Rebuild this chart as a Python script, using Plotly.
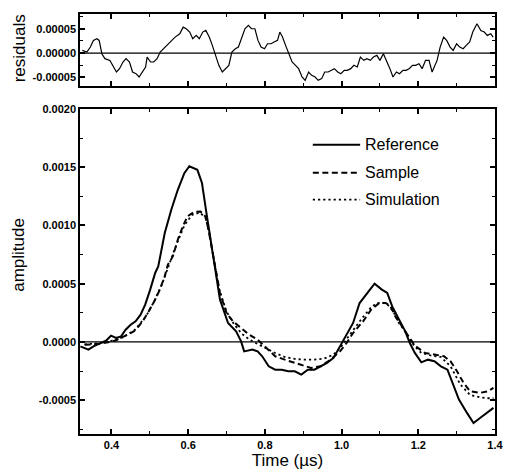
import numpy as np
import plotly.graph_objects as go
from plotly.subplots import make_subplots

# ---- residuals (fit minus measured), units of 1e-5 ----
res_time = [0.324, 0.336, 0.345, 0.353, 0.362, 0.368, 0.375, 0.383, 0.396, 0.404,
            0.413, 0.421, 0.430, 0.438, 0.447, 0.455, 0.464, 0.472, 0.481, 0.489,
            0.493, 0.502, 0.510, 0.519, 0.527, 0.540, 0.553, 0.566, 0.578, 0.587,
            0.595, 0.604, 0.612, 0.621, 0.629, 0.638, 0.646, 0.655, 0.663, 0.672,
            0.680, 0.689, 0.697, 0.706, 0.714, 0.723, 0.731, 0.740, 0.748, 0.757,
            0.765, 0.774, 0.782, 0.790, 0.799, 0.807, 0.816, 0.824, 0.833, 0.839,
            0.846, 0.854, 0.863, 0.871, 0.880, 0.888, 0.897, 0.905, 0.914, 0.922,
            0.931, 0.939, 0.948, 0.956, 0.965, 0.973, 0.981, 0.990, 0.998, 1.007,
            1.015, 1.024, 1.032, 1.041, 1.049, 1.058, 1.066, 1.075, 1.083, 1.092,
            1.100, 1.109, 1.117, 1.126, 1.134, 1.143, 1.151, 1.160, 1.168, 1.176,
            1.185, 1.193, 1.202, 1.210, 1.219, 1.228, 1.236, 1.249, 1.257, 1.266,
            1.274, 1.283, 1.291, 1.300, 1.308, 1.317, 1.325, 1.334, 1.342, 1.353,
            1.363, 1.372, 1.380, 1.389, 1.395]
res_e5 = [0.55, 0.21, 1.24, 2.62, 2.97, 2.62, -0.14, -1.17, -1.52, -2.55,
          -3.93, -3.24, -1.86, -1.17, -1.86, -3.93, -4.28, -4.97, -3.93, -2.90,
          -0.83, -1.86, -1.86, -1.17, 0.21, 1.24, 2.28, 3.31, 4.00, 5.38,
          5.04, 4.35, 2.97, 3.66, 2.97, 4.35, 4.69, 3.31, 1.59, -0.48,
          -2.55, -3.93, -3.24, -2.55, 0.21, 0.90, 1.24, 3.31, 5.04, 5.73,
          5.04, 5.04, 2.62, 1.24, 0.90, 1.93, 1.93, 2.28, 2.62, 4.35,
          3.31, 1.59, -0.14, -1.86, -2.55, -3.24, -4.97, -5.66, -3.93, -4.62,
          -4.97, -5.66, -5.31, -3.93, -3.93, -3.59, -3.24, -3.93, -4.28, -3.59,
          -3.59, -3.24, -2.55, -2.90, -0.83, -1.52, -1.17, -1.52, -0.83, -0.48,
          -1.52, -0.14, -1.52, -3.24, -4.97, -3.93, -4.28, -3.59, -3.59, -3.24,
          -2.55, -2.55, -2.21, -3.24, -1.52, -1.52, -3.93, -1.52, 1.24, 3.31,
          2.62, 1.24, 0.55, 1.93, 1.24, 0.90, 1.59, 2.28, 4.35, 6.07,
          4.69, 4.35, 3.66, 4.00, 3.31]

# ---- waveforms, units of 1e-4 ----
ref_time = [0.319, 0.340, 0.353, 0.370, 0.387, 0.399, 0.412, 0.425, 0.437, 0.450,
            0.463, 0.476, 0.488, 0.501, 0.514, 0.522, 0.539, 0.556, 0.573, 0.590,
            0.603, 0.624, 0.636, 0.649, 0.666, 0.683, 0.704, 0.725, 0.738, 0.746,
            0.768, 0.781, 0.793, 0.810, 0.827, 0.844, 0.861, 0.878, 0.895, 0.912,
            0.929, 0.946, 0.962, 0.979, 0.996, 1.013, 1.030, 1.047, 1.064, 1.077,
            1.086, 1.105, 1.119, 1.132, 1.149, 1.166, 1.178, 1.191, 1.208, 1.225,
            1.242, 1.259, 1.276, 1.289, 1.306, 1.327, 1.344, 1.361, 1.373, 1.386,
            1.396]
ref_e4 = [-0.38, -0.66, -0.38, -0.09, 0.14, 0.54, 0.34, 0.48, 1.05, 1.48,
          1.77, 2.34, 3.20, 4.49, 5.92, 6.48, 9.35, 11.35, 13.06, 14.49,
          15.08, 14.77, 13.64, 10.77, 7.06, 3.63, 1.63, 0.91, 0.05, -0.81,
          -0.66, -0.81, -1.23, -2.09, -2.38, -2.38, -2.52, -2.52, -2.80, -2.38,
          -2.38, -2.09, -1.80, -1.37, -0.38, 0.63, 1.63, 3.34, 4.06, 4.63,
          5.00, 4.49, 4.20, 3.05, 1.91, 0.91, -0.09, -0.94, -1.75, -1.52,
          -1.66, -2.09, -2.38, -3.52, -4.95, -6.09, -6.95, -6.52, -6.23, -5.95,
          -5.66]

sample_time = [0.330, 0.350, 0.370, 0.391, 0.412, 0.425, 0.441, 0.458, 0.471, 0.484,
               0.497, 0.514, 0.526, 0.539, 0.547, 0.560, 0.573, 0.586, 0.598, 0.615,
               0.632, 0.645, 0.653, 0.666, 0.683, 0.700, 0.717, 0.738, 0.759, 0.781,
               0.802, 0.827, 0.852, 0.878, 0.903, 0.920, 0.946, 0.971, 0.996, 1.013,
               1.030, 1.056, 1.077, 1.098, 1.115, 1.128, 1.140, 1.157, 1.174, 1.191,
               1.217, 1.242, 1.267, 1.284, 1.301, 1.318, 1.335, 1.361, 1.382, 1.396]
sample_e4 = [-0.25, -0.20, -0.15, -0.03, 0.14, 0.34, 0.63, 0.91, 1.34, 1.91,
             2.62, 3.63, 4.49, 5.63, 6.63, 7.34, 8.77, 9.91, 10.77, 11.15,
             11.20, 10.77, 9.63, 7.23, 4.20, 2.49, 1.77, 1.20, 0.63, 0.20,
             -0.49, -1.23, -1.52, -1.80, -2.09, -2.23, -2.09, -1.52, -0.81, -0.09,
             0.77, 1.77, 2.77, 3.34, 3.34, 3.05, 2.20, 1.34, 0.48, -0.32,
             -0.94, -1.09, -1.23, -1.66, -2.52, -3.52, -4.23, -4.37, -4.23, -3.94]

sim_time = [0.330, 0.370, 0.400, 0.430, 0.460, 0.490, 0.510, 0.530, 0.550, 0.570,
            0.590, 0.610, 0.630, 0.645, 0.655, 0.665, 0.680, 0.700, 0.720, 0.740,
            0.760, 0.776, 0.800, 0.827, 0.852, 0.878, 0.903, 0.929, 0.954, 0.979,
            0.996, 1.013, 1.030, 1.055, 1.075, 1.090, 1.105, 1.120, 1.135, 1.150,
            1.166, 1.178, 1.191, 1.208, 1.234, 1.259, 1.284, 1.310, 1.335, 1.352,
            1.378, 1.396]
sim_e4 = [-0.20, -0.10, 0.10, 0.40, 1.00, 2.20, 3.40, 4.80, 6.60, 8.40,
          10.00, 10.90, 11.10, 10.70, 9.40, 7.50, 4.60, 2.60, 1.50, 0.70,
          0.20, -0.09, -0.50, -0.95, -1.29, -1.46, -1.52, -1.52, -1.43, -1.09,
          -0.52, 0.20, 1.00, 2.10, 2.90, 3.30, 3.40, 3.20, 2.60, 1.60,
          0.90, 0.20, -0.38, -0.94, -1.17, -1.29, -2.09, -3.67, -4.55, -4.69,
          -4.83, -4.83]

x_ticks = [0.4, 0.6, 0.8, 1.0, 1.2, 1.4]
x_ticklabels = ["0.4", "0.6", "0.8", "1.0", "1.2", "1.4"]
amp_ticks = [-0.0005, 0.0, 0.0005, 0.0010, 0.0015, 0.0020]
amp_ticklabels = ["-0.0005", "0.0000", "0.0005", "0.0010", "0.0015", "0.0020"]
res_ticks = [-0.00005, 0.0, 0.00005]
res_ticklabels = ["-0.00005", "0.00000", "0.00005"]

series = [
    ("Reference", ref_time, ref_e4, "solid", 2.0),
    ("Sample", sample_time, sample_e4, "6px,3.5px", 2.0),
    ("Simulation", sim_time, sim_e4, "2.2px,3px", 1.8),
]

FONT = "Arial, 'Liberation Sans', Helvetica, sans-serif"

fig = make_subplots(rows=2, cols=1, shared_xaxes=False, vertical_spacing=0.0)

fig.add_trace(go.Scatter(x=res_time, y=np.array(res_e5) * 1e-5, mode="lines",
                         line=dict(color="black", width=1.2), showlegend=False),
              row=1, col=1)

for name, t, v, dash, w in series:
    fig.add_trace(go.Scatter(x=t, y=np.array(v) * 1e-4, mode="lines", name=name,
                             line=dict(color="black", width=w, dash=dash),
                             showlegend=False),
                  row=2, col=1)

xrange = [0.318, 1.4]
common_axis = dict(showline=True, linecolor="black", linewidth=1.5, mirror="ticks",
                   ticks="inside", ticklen=5, tickwidth=1.5, tickcolor="black",
                   showgrid=False, zeroline=False,
                   tickfont=dict(family=FONT, size=11, color="black", weight="bold"))

fig.update_xaxes(range=xrange, tickmode="array", tickvals=x_ticks, ticktext=x_ticklabels,
                 minor=dict(ticks="inside", ticklen=3, tickwidth=1.2, tickcolor="black",
                            tick0=0.3, dtick=0.1),
                 **common_axis)
fig.update_xaxes(showticklabels=False, row=1, col=1)
fig.update_xaxes(title=dict(text="Time (µs)", font=dict(family=FONT, size=17, color="black"),
                            standoff=2), row=2, col=1)

fig.update_yaxes(range=[-0.000068, 0.000081], tickmode="array", tickvals=res_ticks,
                 ticktext=res_ticklabels,
                 minor=dict(ticks="inside", ticklen=3, tickwidth=1.2, tickcolor="black",
                            tick0=0, dtick=0.000025),
                 zeroline=False, row=1, col=1,
                 **{k: v for k, v in common_axis.items() if k != "zeroline"})
fig.update_yaxes(range=[-0.00079, 0.002], tickmode="array", tickvals=amp_ticks,
                 ticktext=amp_ticklabels,
                 minor=dict(ticks="inside", ticklen=3, tickwidth=1.2, tickcolor="black",
                            tick0=0, dtick=0.00025),
                 row=2, col=1, **common_axis)

fig.update_layout(
    width=512, height=473,
    margin=dict(l=80, r=8, t=14, b=38),
    paper_bgcolor="white", plot_bgcolor="white",
    font=dict(family=FONT, color="black"),
    xaxis=dict(domain=[0, 1]), xaxis2=dict(domain=[0, 1]),
    yaxis=dict(domain=[0.829, 1.0]), yaxis2=dict(domain=[0.0, 0.774]),
)

# zero reference lines in both panels
for yref, xref in (("y", "x domain"), ("y2", "x2 domain")):
    fig.add_shape(type="line", xref=xref, yref=yref, x0=0, x1=1, y0=0, y1=0,
                  line=dict(color="black", width=1.3))

# vertical axis titles
fig.add_annotation(text="residuals", xref="paper", yref="y domain", x=-0.145, y=0.52,
                   xanchor="center", yanchor="middle", textangle=-90, showarrow=False,
                   font=dict(family=FONT, size=17, color="black"))
fig.add_annotation(text="amplitude", xref="paper", yref="y2 domain", x=-0.148, y=0.55,
                   xanchor="center", yanchor="middle", textangle=-90, showarrow=False,
                   font=dict(family=FONT, size=17, color="black"))

# legend: sample line plus label for each series
legend_rows = [0.890, 0.804, 0.721]
for (name, _, _, dash, w), ly in zip(series, legend_rows):
    fig.add_shape(type="line", xref="x2 domain", yref="y2 domain",
                  x0=0.561, x1=0.675, y0=ly, y1=ly,
                  line=dict(color="black", width=w, dash=dash))
    fig.add_annotation(text=name, xref="x2 domain", yref="y2 domain", x=0.682, y=ly,
                       xanchor="left", yanchor="middle", showarrow=False,
                       font=dict(family=FONT, size=16, color="black"))

fig.write_html("out.html")
